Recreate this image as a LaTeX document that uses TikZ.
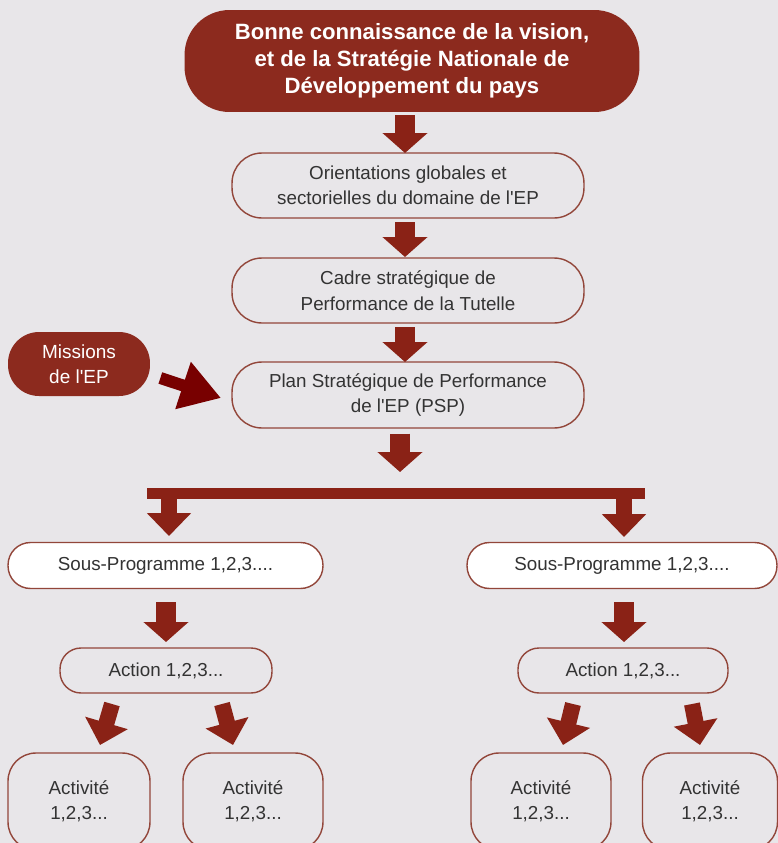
\documentclass[tikz,border=0pt]{standalone}
\usepackage{fontspec}
\setmainfont{Liberation Sans}
\usepackage{xcolor}
\usetikzlibrary{arrows.meta, positioning}

\definecolor{bgcol}{HTML}{E8E6E9}
\definecolor{darkred}{HTML}{8C2A1E}
\definecolor{arrowred}{HTML}{8A2216}
\definecolor{missred}{HTML}{780000}
\definecolor{edgered}{HTML}{92463A}
\definecolor{textgray}{HTML}{333333}

\begin{document}
\begin{tikzpicture}[x=0.02cm, y=-0.02cm,
    redbox/.style={fill=darkred, text=white, align=center, inner sep=2pt},
    box/.style={draw=edgered, line width=0.8pt, fill=bgcol, text=textgray, align=center, inner sep=2pt, font=\fontsize{10.7}{14.5}\selectfont},
    blockarrow/.style={draw=arrowred, line width=0.4cm, -{Triangle[length=0.4cm, width=0.88cm]}},
    thinarrow/.style={draw=arrowred, line width=0.32cm, -{Triangle[length=0.46cm, width=0.86cm]}},
    missarrow/.style={draw=missred, line width=0.24cm, -{Triangle[length=0.8cm, width=0.94cm]}}
]
\useasboundingbox (0,0) rectangle (778,843);
\fill[bgcol] (0,0) rectangle (778,843);
% Top of the chain
\node[redbox, rounded corners=0.9cm, minimum width=9.1cm, minimum height=2.04cm, font=\bfseries\fontsize{12.6}{15.3}\selectfont] (vision) at (412,61) {Bonne connaissance de la vision,\\ et de la Stratégie Nationale de\\ Développement du pays};
\node[box, rounded corners=0.6cm, minimum width=7.04cm, minimum height=1.3cm] (orient) at (408,185.5) {Orientations globales et\\ sectorielles du domaine de l\textquotesingle EP};
\node[box, rounded corners=0.6cm, minimum width=7.04cm, minimum height=1.3cm] (cadre) at (408,290.5) {Cadre stratégique de\\ Performance de la Tutelle};
\node[box, rounded corners=0.6cm, minimum width=7.04cm, minimum height=1.32cm] (psp) at (408,395) {Plan Stratégique de Performance\\ de l\textquotesingle EP (PSP)};
\node[redbox, rounded corners=0.62cm, minimum width=2.84cm, minimum height=1.28cm, font=\fontsize{10.8}{14.5}\selectfont] (missions) at (79,364) {Missions\\ de l\textquotesingle EP};
% Two branches
\node[box, fill=white, rounded corners=0.45cm, minimum width=6.3cm, minimum height=0.92cm] (sp1) at (165.5,565.5) {Sous-Programme 1,2,3....};
\node[box, fill=white, rounded corners=0.45cm, minimum width=6.2cm, minimum height=0.92cm] (sp2) at (622,565.5) {Sous-Programme 1,2,3....};
\node[box, rounded corners=0.42cm, minimum width=4.24cm, minimum height=0.9cm] (act1) at (166,670.5) {Action 1,2,3...};
\node[box, rounded corners=0.42cm, minimum width=4.2cm, minimum height=0.9cm] (act2) at (623,670.5) {Action 1,2,3...};
\node[box, rounded corners=0.56cm, minimum width=2.84cm, minimum height=1.94cm] (a11) at (79,801.5) {Activité\\ 1,2,3...};
\node[box, rounded corners=0.56cm, minimum width=2.8cm, minimum height=1.94cm] (a12) at (253,801.5) {Activité\\ 1,2,3...};
\node[box, rounded corners=0.56cm, minimum width=2.8cm, minimum height=1.94cm] (a21) at (541,801.5) {Activité\\ 1,2,3...};
\node[box, rounded corners=0.56cm, minimum width=2.7cm, minimum height=1.94cm] (a22) at (710,801.5) {Activité\\ 1,2,3...};
% Bar points
\coordinate (barl) at (147,493);
\coordinate (barr) at (645,493);
\coordinate (barin) at (400,487);
% Arrows
\draw[blockarrow] (405,115) -- (405,153);
\draw[blockarrow] (405,222) -- (405,257);
\draw[blockarrow] (405,327) -- (405,362);
\draw[blockarrow] (psp.south -| barin) ++(0,5) -- ([yshift=0.3cm]barin);
\draw[arrowred, line width=0.22cm] (barl) -- (barr);
\draw[thinarrow] (169,493) -- (169,536);
\draw[thinarrow] (624,493) -- (624,537);
\draw[blockarrow] (166,602) -- (166,642);
\draw[blockarrow] (624,602) -- (624,642);
\draw[missarrow] ([yshift=-0.2cm]missions.east) ++(10,4) -- (221,398);
% Diagonal arrows to activities
\draw[thinarrow] (112,704) -- (100,745);
\draw[thinarrow] (222,704) -- (233,745);
\draw[thinarrow] (573,704) -- (563,745);
\draw[thinarrow] (692,704) -- (700,745);
\end{tikzpicture}
\end{document}
